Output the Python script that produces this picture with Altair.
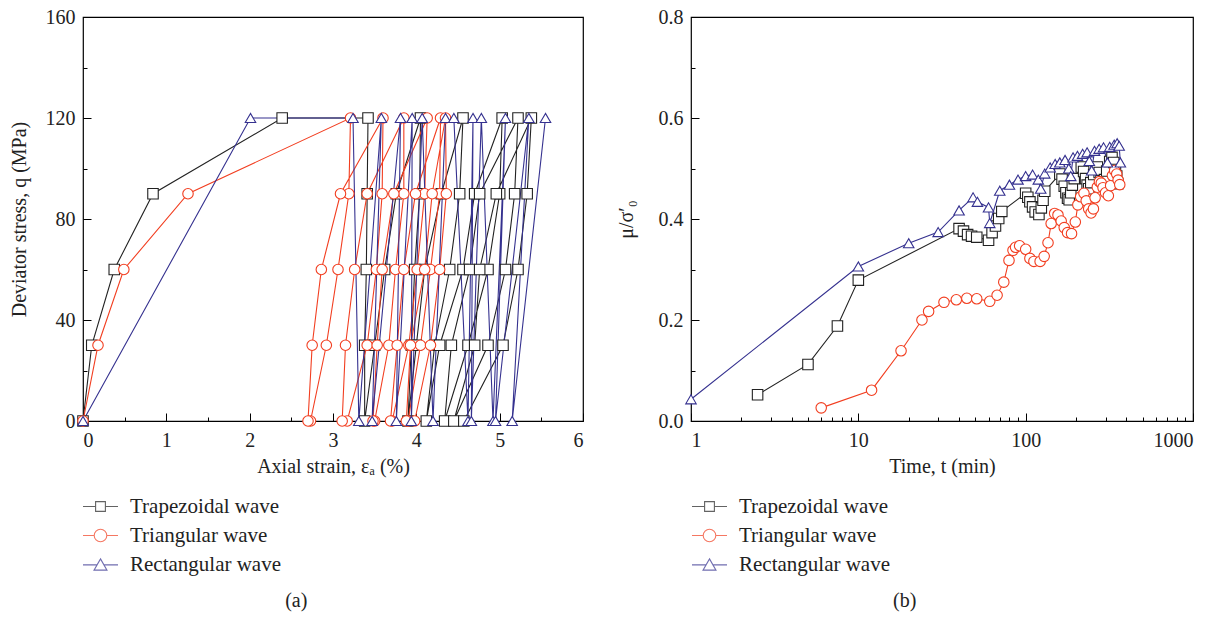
import altair as alt
import pandas as pd

FONT = "Liberation Serif"
SERIES = ["Trapezoidal wave", "Triangular wave", "Rectangular wave"]
COLORS = ["#222222", "#f23e20", "#35318f"]
SHAPES = ["square", "circle", "triangle-up"]
LEGEND_PATHS = [
    "M-1,0H-0.28M0.28,0H1M-0.28,-0.28H0.28V0.28H-0.28Z",
    "M-1,0H-0.36M0.36,0H1M0.36,0A0.36,0.36,0,1,1,-0.36,0A0.36,0.36,0,1,1,0.36,0Z",
    "M-1,0.02H-0.2M0.2,0.02H1M0,-0.32L0.37,0.32H-0.37Z",
]

# ---------------- panel (a): deviator stress vs axial strain ----------------
TRAP_STRAIN = [0, 0.105, 0.375, 0.84, 2.39, 3.42,
               3.41, 3.40, 3.38, 3.38, 3.50, 3.62, 3.76, 4.05,
               4.04, 3.98, 3.94, 3.90, 4.00, 4.10, 4.30, 4.56,
               4.52, 4.40, 4.22, 4.12, 4.28, 4.56, 4.70, 5.03,
               5.00, 4.86, 4.62, 4.34, 4.42, 4.64, 4.76, 5.22,
               5.18, 5.07, 4.86, 4.45, 4.70, 4.76, 4.96, 5.38,
               5.33, 5.22, 5.04, 4.57]
TRAP_Q = [0, 30, 60, 90, 120, 120,
          90, 60, 30, 0, 30, 60, 90, 120,
          90, 60, 30, 0, 30, 60, 90, 120,
          90, 60, 30, 0, 30, 60, 90, 120,
          90, 60, 30, 0, 30, 60, 90, 120,
          90, 60, 30, 0, 30, 60, 90, 120,
          90, 60, 30, 0]

TRI_STRAIN = [0, 0.18, 0.49, 1.26, 3.21,
              3.19, 3.06, 2.92, 2.73, 2.70, 2.75, 2.86, 3.09, 3.60,
              3.59, 3.52, 3.41, 3.17, 3.11, 3.15, 3.26, 3.41, 3.85,
              3.85, 3.75, 3.67, 3.50, 3.48, 3.53, 3.59, 3.73, 4.13,
              4.10, 4.01, 3.91, 3.71, 3.69, 3.77, 3.85, 3.99, 4.29,
              4.28, 4.17, 4.05, 3.90, 3.88, 3.93, 4.10, 4.19, 4.35,
              4.36, 4.28, 4.17, 3.98]
TRI_Q = [0, 30, 60, 90, 120,
         90, 60, 30, 0, 0, 30, 60, 90, 120,
         90, 60, 30, 0, 0, 30, 60, 90, 120,
         90, 60, 30, 0, 0, 30, 60, 90, 120,
         90, 60, 30, 0, 0, 30, 60, 90, 120,
         90, 60, 30, 0, 0, 30, 60, 90, 120,
         90, 60, 30, 0]

RECT_STRAIN = [0, 2.01, 3.24, 3.31, 3.58, 3.47, 3.81, 3.76, 3.95, 3.94, 4.07, 4.20,
               4.35, 4.45, 4.62, 4.68, 4.66, 4.78, 4.92, 5.07, 4.95, 5.35, 5.15, 5.55]
RECT_Q = [0, 120, 120, 0, 120, 0, 120, 0, 120, 0, 120, 0,
          120, 120, 0, 120, 0, 120, 0, 120, 0, 120, 0, 120]

# ---------------- panel (b): mu / sigma'0 vs time ----------------
TRAP_T = [2.5, 5, 7.5, 10, 40, 42.5, 45, 47.5, 51, 60,
          63, 66, 69, 72, 100, 103, 106, 110, 114, 120,
          124, 127, 130, 160, 165, 170, 174, 178, 182, 186,
          190, 195, 215, 222, 228, 233, 238, 245, 255, 268,
          275, 282, 290, 296, 305, 318, 328, 336, 344, 350, 355]
TRAP_R = [0.052, 0.112, 0.188, 0.279, 0.381, 0.376, 0.369, 0.366, 0.364, 0.358,
          0.373, 0.386, 0.401, 0.415, 0.451, 0.443, 0.434, 0.424, 0.414, 0.409,
          0.422, 0.437, 0.455, 0.489, 0.479, 0.465, 0.452, 0.441, 0.438, 0.452,
          0.467, 0.480, 0.503, 0.494, 0.480, 0.467, 0.460, 0.472, 0.488, 0.503,
          0.492, 0.476, 0.465, 0.478, 0.495, 0.514, 0.522, 0.512, 0.498, 0.485, 0.470]

TRI_T = [6, 12, 18, 24, 26.3, 32.5, 38.5, 44.5, 51, 61,
         67.5, 74, 79.5, 84, 87, 92, 100, 106, 112, 122,
         129, 136, 142, 149, 156, 163, 170, 178, 188, 198,
         205, 213, 223, 230, 238, 246, 254, 260, 268, 276,
         283, 290, 300, 312, 322, 330, 340, 350, 357, 365]
TRI_R = [0.026, 0.061, 0.139, 0.200, 0.217, 0.235, 0.240, 0.243, 0.242, 0.237,
         0.249, 0.275, 0.318, 0.338, 0.344, 0.347, 0.340, 0.322, 0.316, 0.316,
         0.326, 0.353, 0.391, 0.411, 0.408, 0.396, 0.383, 0.373, 0.371, 0.394,
         0.428, 0.444, 0.451, 0.436, 0.420, 0.412, 0.420, 0.442, 0.463, 0.474,
         0.471, 0.462, 0.452, 0.446, 0.466, 0.486, 0.496, 0.489, 0.477, 0.468]

RECT_T = [1, 10, 20, 30, 40, 48.5, 51.5, 60, 61, 70,
          80, 90, 100, 110, 119, 123, 130, 140, 150, 160,
          172, 181, 186, 192, 204, 219, 233, 240, 248, 258,
          275, 292, 308, 318, 338, 352, 362, 368]
RECT_R = [0.043, 0.306, 0.352, 0.374, 0.417, 0.443, 0.434, 0.423, 0.392, 0.456,
          0.468, 0.478, 0.485, 0.488, 0.478, 0.460, 0.490, 0.502, 0.509, 0.512,
          0.517, 0.500, 0.485, 0.522, 0.525, 0.529, 0.532, 0.515, 0.496, 0.535,
          0.539, 0.542, 0.512, 0.543, 0.547, 0.550, 0.545, 0.512]

# axis tick values
A_X_MAJOR = [0, 1, 2, 3, 4, 5, 6]
A_X_MINOR = [0.5, 1.5, 2.5, 3.5, 4.5, 5.5]
A_Y_MAJOR = [0, 40, 80, 120, 160]
A_Y_MINOR = [20, 60, 100, 140]
B_X_MAJOR = [1, 10, 100, 1000]
B_X_MINOR = [2, 3, 4, 5, 6, 7, 8, 9, 20, 30, 40, 50, 60, 70, 80, 90,
             200, 300, 400, 500, 600, 700, 800, 900]
B_Y_MAJOR = [0.0, 0.2, 0.4, 0.6, 0.8]
B_Y_MINOR = [0.1, 0.3, 0.5, 0.7]


def frame(xs_list, ys_list):
    rows = []
    for name, xs, ys in zip(SERIES, xs_list, ys_list):
        for i, (a, b) in enumerate(zip(xs, ys)):
            rows.append({"series": name, "x": a, "y": b, "idx": i})
    return pd.DataFrame(rows)


df_a = frame([TRAP_STRAIN, TRI_STRAIN, RECT_STRAIN], [TRAP_Q, TRI_Q, RECT_Q])
df_b = frame([TRAP_T, TRI_T, RECT_T], [TRAP_R, TRI_R, RECT_R])
df_leg = pd.DataFrame({"series": SERIES})


def panel(df, xscale, yscale, W, H, xtitle, ytitle, xmain, xminor, ymain, yminor,
          xfmt, yfmt, ytitlepad, legx, legy, caption):
    lines = alt.Chart(df).mark_line(strokeWidth=1.1).encode(
        x=alt.X("x:Q", scale=xscale, title=xtitle,
                axis=alt.Axis(values=xmain, format=xfmt, ticks=False, domain=False,
                              grid=False, labelPadding=9, titlePadding=6)),
        y=alt.Y("y:Q", scale=yscale, title=ytitle,
                axis=alt.Axis(values=ymain, format=yfmt, ticks=False, domain=False,
                              grid=False, labelPadding=8, titlePadding=ytitlepad)),
        color=alt.Color("series:N", scale=alt.Scale(domain=SERIES, range=COLORS), legend=None),
        order=alt.Order("idx:Q"),
    )
    minor = alt.Chart(df).mark_point(opacity=0).encode(
        x=alt.X("x:Q", scale=xscale, title=None,
                axis=alt.Axis(orient="top", offset=-H, values=xminor, labels=False,
                              domain=False, tickSize=4, tickColor="#000", grid=False)),
        y=alt.Y("y:Q", scale=yscale, title=None,
                axis=alt.Axis(orient="right", offset=-W, values=yminor, labels=False,
                              domain=False, tickSize=4, tickColor="#000", grid=False)),
    )
    pts = alt.Chart(df).mark_point(filled=True, fill="white", size=110, strokeWidth=1.1,
                                    opacity=1).encode(
        x=alt.X("x:Q", scale=xscale, title=None,
                axis=alt.Axis(orient="top", offset=-H, values=xmain, labels=False,
                              domain=False, tickSize=8, tickColor="#000", grid=False)),
        y=alt.Y("y:Q", scale=yscale, title=None,
                axis=alt.Axis(orient="right", offset=-W, values=ymain, labels=False,
                              domain=False, tickSize=8, tickColor="#000", grid=False)),
        shape=alt.Shape("series:N", scale=alt.Scale(domain=SERIES, range=SHAPES), legend=None),
        stroke=alt.Stroke("series:N", scale=alt.Scale(domain=SERIES, range=COLORS), legend=None),
    )
    legprops = dict(orient="none", legendX=legx, legendY=legy, title=None, padding=0,
                    labelFont=FONT, labelFontSize=21, labelColor="#222", labelOffset=11,
                    symbolSize=1225, symbolStrokeWidth=1.1, symbolFillColor="white",
                    rowPadding=-1, labelLimit=400)
    leg = alt.Chart(df_leg).mark_point(filled=True, fill="white", strokeWidth=1.1).encode(
        shape=alt.Shape("series:N", scale=alt.Scale(domain=SERIES, range=LEGEND_PATHS),
                        legend=alt.Legend(**legprops)),
        stroke=alt.Stroke("series:N", scale=alt.Scale(domain=SERIES, range=COLORS),
                          legend=alt.Legend(**legprops)),
    ).transform_filter("false")
    return alt.layer(lines, minor, pts, leg).resolve_scale(
        shape="independent", stroke="independent"
    ).resolve_axis(x="independent", y="independent").properties(
        width=W, height=H,
        title=alt.TitleParams(caption, orient="bottom", anchor="middle", frame="bounds",
                              offset=16, font=FONT, fontSize=20, fontWeight="normal",
                              color="#222"),
    )


H = 404
left = panel(df_a,
             alt.Scale(domain=[0, 6], nice=False, zero=False),
             alt.Scale(domain=[0, 160], nice=False),
             500, H, "Axial strain, εₐ (%)", "Deviator stress, q (MPa)",
             A_X_MAJOR, A_X_MINOR, A_Y_MAJOR, A_Y_MINOR, "d", "d", 16, -1, 471, "(a)")
right = panel(df_b,
              alt.Scale(type="log", domain=[1, 1000], nice=False),
              alt.Scale(domain=[0, 0.8], nice=False),
              502, H, "Time, t (min)", "μ/σ′₀",
              B_X_MAJOR, B_X_MINOR, B_Y_MAJOR, B_Y_MINOR, "d", ".1f", 22, 0, 471, "(b)")

chart = alt.hconcat(left, right, spacing=30).configure(
    font=FONT,
).configure_view(
    stroke="#000", strokeWidth=1.2,
).configure_axis(
    labelFont=FONT, titleFont=FONT, labelFontSize=20, titleFontSize=20,
    titleFontWeight="normal", labelColor="#222", titleColor="#222",
).properties(
    padding={"left": 8, "top": 6, "right": 5, "bottom": 2},
)

chart.save("out.html", embed_options={"renderer": "svg", "actions": False})
